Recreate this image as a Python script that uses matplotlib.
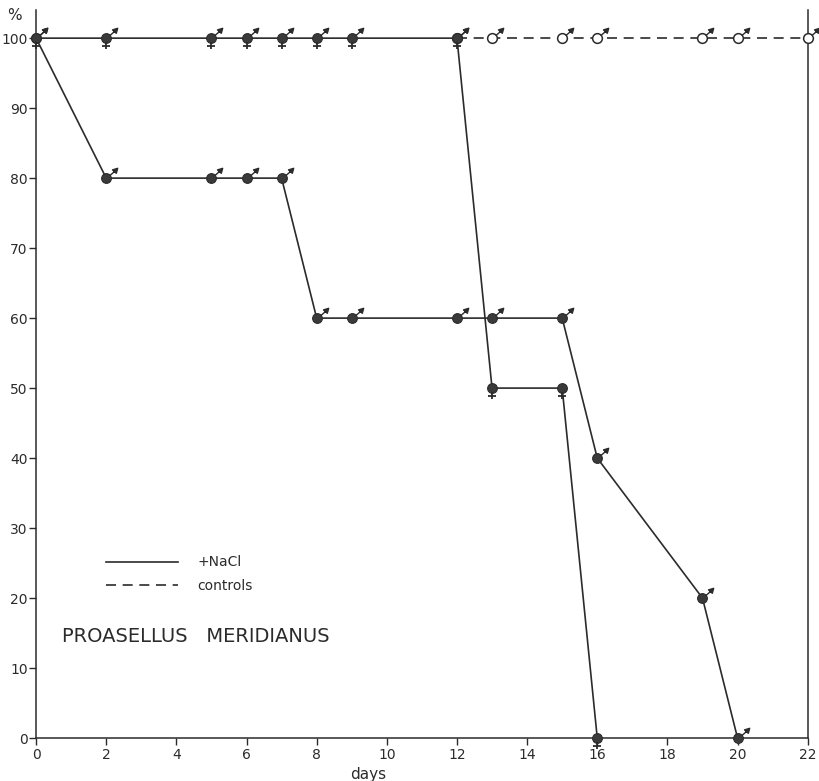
import matplotlib.pyplot as plt
import numpy as np
from matplotlib.path import Path

# survival (%) of Proasellus meridianus
days_f = [0, 2, 5, 6, 7, 8, 9, 12, 13, 15, 16]
female_nacl = [100, 100, 100, 100, 100, 100, 100, 100, 50, 50, 0]
days_m = [0, 2, 5, 6, 7, 8, 9, 12, 13, 15, 16, 19, 20]
male_nacl = [100, 80, 80, 80, 80, 60, 60, 60, 60, 60, 40, 20, 0]
days_c = [12, 13, 15, 16, 19, 20, 22]
controls = [100, 100, 100, 100, 100, 100, 100]

x_ticks = list(range(0, 23, 2))
y_ticks = list(range(0, 101, 10))

ink = '#2b2b2b'
PX = 72 / 100  # points per pixel at dpi 100


def path_marker(verts, codes):
    verts = np.array(verts, dtype=float)
    size = 2 * np.abs(verts).max() * PX
    return Path(verts, codes), size


# male sign: arrow to upper right (pixel units, y up)
arrow_path, arrow_ms = path_marker(
    [(3.2, 2.8), (9.0, 7.8),
     (6.0, 8.6), (11.2, 10.2), (9.8, 5.2), (6.0, 8.6)],
    [Path.MOVETO, Path.LINETO,
     Path.MOVETO, Path.LINETO, Path.LINETO, Path.CLOSEPOLY])

# female sign: cross below
cross_path, cross_ms = path_marker(
    [(0, -4.5), (0, -11.5), (-3.6, -8.0), (3.6, -8.0)],
    [Path.MOVETO, Path.LINETO, Path.MOVETO, Path.LINETO])

fig, ax = plt.subplots(figsize=(8.2, 7.81), dpi=100)
fig.subplots_adjust(left=0.044, right=0.985, bottom=0.055, top=0.987)

# controls (dashed, open circles)
ctrl_line, = ax.plot(days_c, controls, color=ink, lw=1.2, ls=(0, (6, 4)),
                     zorder=2)
ax.plot(days_c, controls, ls='none', marker='o', ms=7, mfc='white',
        mec=ink, mew=1.1, zorder=3, clip_on=False)
ax.plot(days_c, controls, ls='none', marker=arrow_path, ms=arrow_ms,
        mfc=ink, mec=ink, mew=1.0, zorder=3, clip_on=False)

# +NaCl
nacl_line, = ax.plot(days_m, male_nacl, color=ink, lw=1.2, zorder=4)
ax.plot(days_f, female_nacl, color=ink, lw=1.2, zorder=4)

ax.plot(days_m, male_nacl, ls='none', marker='o', ms=7, mfc='#3a3a3a',
        mec=ink, mew=0.8, zorder=5, clip_on=False)
ax.plot(days_f, female_nacl, ls='none', marker='o', ms=7, mfc='#3a3a3a',
        mec=ink, mew=0.8, zorder=5, clip_on=False)

arrow_x = days_m + [d for d, v in zip(days_f, female_nacl) if v == 100]
arrow_y = male_nacl + [v for v in female_nacl if v == 100]
ax.plot(arrow_x, arrow_y, ls='none', marker=arrow_path, ms=arrow_ms,
        mfc=ink, mec=ink, mew=1.0, zorder=5, clip_on=False)
ax.plot(days_f, female_nacl, ls='none', marker=cross_path, ms=cross_ms,
        mfc='none', mec=ink, mew=1.3, zorder=5, clip_on=False)

ax.set_xlim(0, 22)
ax.set_ylim(0, 104)
ax.spines['top'].set_visible(False)
for s in ('left', 'right', 'bottom'):
    ax.spines[s].set_color(ink)
    ax.spines[s].set_linewidth(1.1)

ax.set_xticks(x_ticks)
ax.set_yticks(y_ticks)
ax.tick_params(direction='out', length=5, width=1, colors=ink,
               labelsize=10, pad=2)
ax.tick_params(axis='y', pad=1)

ax.set_xlabel('days', fontsize=11, color=ink, labelpad=1)
ax.xaxis.set_label_coords(0.43, -0.04)
ax.text(-0.62, 103.3, '%', fontsize=11, color=ink, ha='center',
        va='center', clip_on=False)

ax.legend([nacl_line, ctrl_line], ['+NaCl', 'controls'],
          loc='center left', bbox_to_anchor=(0.09, 0.225), frameon=False,
          handlelength=5.2, handletextpad=1.4, labelspacing=0.7,
          borderpad=0, borderaxespad=0, fontsize=10,
          labelcolor=ink)

ax.text(0.034, 0.139, 'PROASELLUS   MERIDIANUS', transform=ax.transAxes,
        fontsize=14, color=ink, ha='left', va='center')

plt.savefig('out.png', dpi=100)
